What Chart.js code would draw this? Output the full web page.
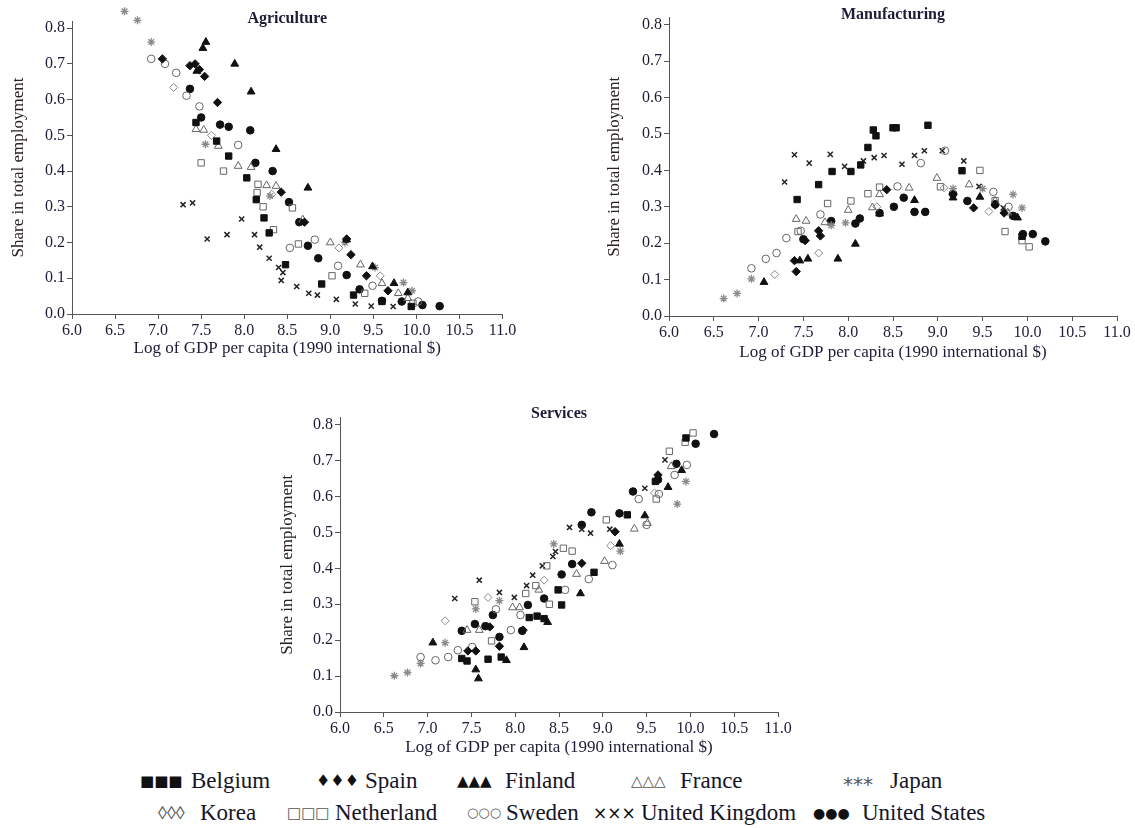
<!DOCTYPE html>
<html>
<head>
<meta charset="utf-8">
<script src="https://cdn.jsdelivr.net/npm/chart.js@4.4.1/dist/chart.umd.min.js"></script>
<style>
  body { margin: 0; background: #fff; width: 1135px; height: 828px; position: relative; overflow: hidden; }
  canvas { position: absolute; }
  .leg { position: absolute; font-family: "Liberation Serif", "Times New Roman", serif; font-size: 23px; line-height: 22px; color: #15152a; white-space: nowrap; }
  .sym { position: absolute; font-family: "DejaVu Sans", sans-serif; line-height: 22px; color: #111; white-space: nowrap; }
</style>
</head>
<body>
<canvas id="agri" width="520" height="360" style="left:0;top:0"></canvas>
<canvas id="manu" width="545" height="365" style="left:590px;top:0"></canvas>
<canvas id="serv" width="540" height="360" style="left:260px;top:400px"></canvas>

<span class="sym" style="left:140px;top:770px;font-size:15px">■■■</span><span class="leg" style="left:191px;top:770px">Belgium</span>
<span class="sym" style="left:316px;top:770px;font-size:16px">♦♦♦</span><span class="leg" style="left:365px;top:770px">Spain</span>
<span class="sym" style="left:457px;top:770px;font-size:15px">▲▲▲</span><span class="leg" style="left:505px;top:770px">Finland</span>
<span class="sym" style="left:631px;top:770px;font-size:15px;color:#555">△△△</span><span class="leg" style="left:680px;top:770px">France</span>
<span class="sym" style="left:843px;top:773px;color:#555;font-size:20px">***</span><span class="leg" style="left:890px;top:770px">Japan</span>
<span class="sym" style="left:158px;top:802px;color:#555;font-size:18px;font-family:'Liberation Serif',serif">◊◊◊</span><span class="leg" style="left:200px;top:802px">Korea</span>
<span class="sym" style="left:287px;top:802px;color:#555;font-size:15px">□□□</span><span class="leg" style="left:335px;top:802px">Netherland</span>
<span class="sym" style="left:467px;top:802px;color:#555;font-size:13px">○○○</span><span class="leg" style="left:506px;top:802px">Sweden</span>
<span class="sym" style="left:593px;top:802px;font-size:17px">×××</span><span class="leg" style="left:641px;top:802px">United Kingdom</span>
<span class="sym" style="left:813px;top:802px;font-size:14px">●●●</span><span class="leg" style="left:862px;top:802px">United States</span>

<script>
// ---- data: [log GDP per capita, share in total employment] ----
var countries = ['Belgium', 'Spain', 'Finland', 'France', 'Japan', 'Korea', 'Netherland', 'Sweden', 'United Kingdom', 'United States'];
var yTicks = [0.0, 0.1, 0.2, 0.3, 0.4, 0.5, 0.6, 0.7, 0.8];

// Agriculture
var agriBelgium = [[7.44,0.536],[7.68,0.484],[7.82,0.442],[8.03,0.381],[8.14,0.32],[8.23,0.269],[8.29,0.227],[8.48,0.138],[8.90,0.084],[9.27,0.053],[9.60,0.035],[9.94,0.021]];
var agriSpain = [[7.05,0.714],[7.37,0.695],[7.43,0.70],[7.48,0.684],[7.54,0.665],[7.69,0.592],[8.43,0.341],[8.70,0.257],[9.19,0.21],[9.24,0.166],[9.42,0.107],[9.67,0.065]];
var agriFinland = [[7.52,0.744],[7.555,0.761],[7.45,0.68],[7.89,0.70],[8.08,0.622],[8.37,0.461],[8.74,0.353],[9.19,0.208],[9.49,0.133],[9.74,0.086],[9.90,0.06]];
var agriFrance = [[7.44,0.517],[7.53,0.515],[7.70,0.47],[7.93,0.414],[8.08,0.411],[8.26,0.36],[8.37,0.358],[8.68,0.264],[9.00,0.20],[9.35,0.138],[9.60,0.086],[9.79,0.058],[9.90,0.044]];
var agriJapan = [[6.61,0.847],[6.76,0.822],[6.92,0.761],[7.55,0.475],[8.30,0.33],[9.17,0.20],[9.52,0.13],[9.85,0.088],[9.95,0.065]];
var agriKorea = [[7.18,0.634],[7.62,0.50],[8.32,0.335],[9.10,0.185],[9.58,0.107]];
var agriNetherland = [[7.50,0.423],[7.76,0.40],[8.16,0.363],[8.15,0.34],[8.22,0.30],[8.34,0.236],[8.56,0.297],[8.63,0.196],[9.02,0.107],[9.40,0.058],[9.96,0.03]];
var agriSweden = [[6.92,0.714],[7.08,0.70],[7.21,0.675],[7.33,0.611],[7.48,0.581],[7.93,0.473],[8.53,0.185],[8.82,0.208],[9.09,0.135],[9.49,0.079],[10.02,0.035]];
var agriUK = [[7.29,0.306],[7.40,0.311],[7.57,0.21],[7.80,0.222],[7.97,0.266],[8.12,0.222],[8.18,0.187],[8.29,0.156],[8.40,0.13],[8.45,0.116],[8.43,0.094],[8.61,0.077],[8.75,0.058],[8.85,0.053],[9.07,0.041],[9.29,0.028],[9.475,0.022],[9.73,0.021]];
var agriUS = [[7.37,0.63],[7.50,0.55],[7.72,0.53],[7.82,0.524],[8.07,0.514],[8.13,0.423],[8.33,0.40],[8.52,0.313],[8.64,0.257],[8.74,0.191],[8.86,0.156],[9.19,0.109],[9.34,0.069],[9.60,0.037],[9.83,0.035],[10.07,0.025],[10.27,0.022]];

// Manufacturing
var manuBelgium = [[7.43,0.32],[7.67,0.361],[7.82,0.397],[8.03,0.397],[8.14,0.415],[8.22,0.463],[8.28,0.511],[8.31,0.495],[8.50,0.517],[8.535,0.517],[8.89,0.524],[9.27,0.399],[9.94,0.219]];
var manuSpain = [[7.42,0.122],[7.40,0.152],[7.52,0.207],[7.67,0.234],[7.69,0.22],[8.43,0.347],[9.17,0.334],[9.40,0.297],[9.64,0.305],[9.74,0.283]];
var manuFinland = [[7.06,0.093],[7.46,0.152],[7.55,0.157],[7.885,0.157],[8.08,0.198],[8.35,0.281],[8.74,0.318],[9.17,0.325],[9.47,0.327],[9.89,0.27]];
var manuFrance = [[7.42,0.266],[7.53,0.261],[7.74,0.257],[8.00,0.291],[8.27,0.298],[8.35,0.334],[8.68,0.352],[8.99,0.379],[9.35,0.361],[9.64,0.316],[9.78,0.284]];
var manuJapan = [[6.61,0.048],[6.76,0.062],[6.92,0.102],[7.81,0.249],[7.97,0.256],[9.17,0.35],[9.50,0.35],[9.84,0.334],[9.94,0.297]];
var manuKorea = [[7.18,0.114],[7.67,0.173],[8.32,0.30],[9.07,0.352],[9.57,0.287]];
var manuNetherland = [[7.44,0.232],[7.77,0.309],[8.03,0.316],[8.22,0.336],[8.35,0.354],[9.03,0.355],[9.47,0.40],[9.64,0.317],[9.75,0.232],[9.94,0.207],[10.02,0.19]];
var manuSweden = [[6.92,0.131],[7.08,0.157],[7.20,0.173],[7.31,0.214],[7.47,0.234],[7.69,0.279],[8.55,0.356],[8.81,0.42],[9.08,0.454],[9.62,0.341],[9.79,0.30]];
var manuUK = [[7.29,0.368],[7.40,0.443],[7.565,0.42],[7.80,0.444],[7.96,0.411],[8.17,0.426],[8.29,0.435],[8.40,0.441],[8.60,0.417],[8.74,0.441],[8.85,0.454],[9.05,0.454],[9.29,0.426],[9.46,0.356],[9.73,0.297]];
var manuUS = [[7.50,0.211],[7.81,0.261],[8.08,0.254],[8.13,0.268],[8.35,0.283],[8.51,0.30],[8.62,0.325],[8.74,0.286],[8.86,0.286],[9.17,0.336],[9.33,0.316],[9.64,0.307],[9.84,0.275],[9.95,0.225],[10.06,0.225],[10.20,0.205]];

// Services
var servBelgium = [[7.39,0.149],[7.45,0.142],[7.69,0.147],[7.84,0.153],[8.16,0.263],[8.25,0.267],[8.33,0.26],[8.49,0.34],[8.53,0.298],[8.90,0.389],[9.28,0.549],[9.60,0.642],[9.95,0.763]];
var servSpain = [[7.46,0.17],[7.55,0.17],[7.71,0.237],[7.82,0.183],[8.09,0.228],[8.76,0.414],[9.14,0.502],[9.63,0.66]];
var servFinland = [[7.06,0.193],[7.55,0.118],[7.58,0.093],[7.90,0.144],[8.10,0.18],[8.37,0.25],[8.745,0.33],[9.19,0.468],[9.48,0.547],[9.745,0.626],[9.90,0.673]];
var servFrance = [[7.45,0.228],[7.59,0.228],[7.97,0.291],[8.05,0.291],[8.27,0.34],[8.70,0.384],[9.02,0.42],[9.36,0.51],[9.51,0.526],[9.78,0.684]];
var servJapan = [[6.62,0.101],[6.77,0.11],[6.92,0.135],[7.20,0.193],[7.55,0.287],[7.82,0.31],[8.44,0.468],[9.20,0.448],[9.85,0.579],[9.95,0.642]];
var servKorea = [[7.20,0.254],[7.69,0.319],[8.33,0.367],[9.09,0.463],[9.59,0.61]];
var servNetherland = [[7.54,0.307],[7.73,0.198],[8.12,0.33],[8.235,0.352],[8.36,0.407],[8.39,0.30],[8.55,0.456],[8.65,0.448],[9.04,0.535],[9.61,0.593],[9.76,0.726],[9.94,0.751],[10.03,0.777]];
var servSweden = [[6.92,0.153],[7.09,0.144],[7.235,0.153],[7.345,0.172],[7.51,0.181],[7.78,0.286],[7.95,0.228],[8.06,0.27],[8.57,0.34],[8.84,0.37],[9.11,0.409],[9.41,0.593],[9.50,0.521],[9.64,0.607],[9.82,0.66],[9.96,0.688]];
var servUK = [[7.31,0.316],[7.59,0.367],[7.82,0.333],[7.99,0.319],[8.13,0.352],[8.20,0.381],[8.31,0.407],[8.43,0.433],[8.46,0.447],[8.62,0.514],[8.76,0.509],[8.86,0.498],[9.08,0.509],[9.48,0.623],[9.71,0.702],[9.94,0.763]];
var servUS = [[7.39,0.226],[7.54,0.245],[7.66,0.239],[7.745,0.27],[7.82,0.209],[8.08,0.226],[8.145,0.298],[8.33,0.316],[8.53,0.383],[8.65,0.412],[8.76,0.521],[8.87,0.556],[9.19,0.553],[9.345,0.614],[9.63,0.647],[9.84,0.691],[10.06,0.747],[10.27,0.774]];

// ---- marker styles, same order as countries ----
var NONE = 'rgba(0,0,0,0)';
var styles = [
  { pointStyle: 'rect',     radius: 4.5, fill: '#111', line: '#111', w: 1 },
  { pointStyle: 'rectRot',  radius: 4.2, fill: '#111', line: '#111', w: 1 },
  { pointStyle: 'triangle', radius: 4.5, fill: '#111', line: '#111', w: 1 },
  { pointStyle: 'triangle', radius: 4.5, fill: NONE,   line: '#666', w: 1 },
  { pointStyle: 'star',     radius: 4,   fill: '#8a8a8a', line: '#8a8a8a', w: 1.3 },
  { pointStyle: 'rectRot',  radius: 4,   fill: NONE,   line: '#888', w: 1 },
  { pointStyle: 'rect',     radius: 4.5, fill: NONE,   line: '#666', w: 1 },
  { pointStyle: 'circle',   radius: 3.8, fill: NONE,   line: '#666', w: 1 },
  { pointStyle: 'crossRot', radius: 3.6, fill: '#222', line: '#222', w: 1.5 },
  { pointStyle: 'circle',   radius: 3.8, fill: '#111', line: '#111', w: 1 }
];

var SERIF = '"Liberation Serif", "Times New Roman", serif';
var INK = '#1c1c36';
var AX = '#555';

var panelTitle = {
  id: 'panelTitle',
  afterDraw: function(chart, args, opts) {
    var ctx = chart.ctx, a = chart.chartArea;
    ctx.save();
    ctx.font = 'bold 16px ' + SERIF;
    ctx.fillStyle = INK;
    ctx.textAlign = 'center';
    ctx.textBaseline = 'middle';
    ctx.fillText(opts.text, (a.left + a.right) / 2, a.top + opts.dy);
    ctx.restore();
  }
};

function makePanel(id, title, sets, g) {
  var datasets = sets.map(function(arr, i) {
    var s = styles[i];
    return {
      label: countries[i],
      data: arr.map(function(p) { return { x: p[0], y: p[1] }; }),
      pointStyle: s.pointStyle,
      pointRadius: s.radius,
      pointHoverRadius: 16,   // only widens the draw margin so points just above 0.82 still show
      backgroundColor: s.fill,
      borderColor: s.line,
      borderWidth: s.w,
      showLine: false,
      clip: false
    };
  });
  return new Chart(document.getElementById(id), {
    type: 'scatter',
    data: { datasets: datasets },
    plugins: [panelTitle],
    options: {
      responsive: false,
      animation: false,
      events: [],
      layout: { padding: g.pad },
      plugins: {
        legend: { display: false },
        tooltip: { enabled: false },
        panelTitle: { text: title, dy: g.titleDy }
      },
      scales: {
        x: {
          type: 'linear', min: 6, max: 11,
          ticks: { stepSize: 0.5, autoSkip: false, maxRotation: 0, padding: 2, color: INK,
                   font: { family: SERIF, size: 16 },
                   callback: function(v) { return v.toFixed(1); } },
          grid: { drawOnChartArea: false, drawTicks: true, tickLength: 5, color: AX },
          border: { color: AX },
          title: { display: true, text: 'Log of GDP per capita (1990 international $)', color: INK,
                   font: { family: SERIF, size: 17 }, padding: { top: 0, bottom: g.xtp } },
          afterFit: function(s) { s.height = g.xh; }
        },
        y: {
          type: 'linear', min: 0, max: 0.82,
          ticks: { padding: 2, color: INK, font: { family: SERIF, size: 16 },
                   callback: function(v) { return v.toFixed(1); } },
          afterBuildTicks: function(s) {
            s.ticks = yTicks.map(function(v) { return { value: v }; });
          },
          grid: { drawOnChartArea: false, drawTicks: true, tickLength: 5, color: AX },
          border: { color: AX },
          title: { display: true, text: 'Share in total employment', color: '#2a2020',
                   font: { family: SERIF, size: 17 }, padding: { top: g.ytp, bottom: 0 } },
          afterFit: function(s) { s.width = g.yw; }
        }
      }
    }
  });
}

makePanel('agri', 'Agriculture',
  [agriBelgium, agriSpain, agriFinland, agriFrance, agriJapan, agriKorea, agriNetherland, agriSweden, agriUK, agriUS],
  { yw: 72, xh: 46, ytp: 8, xtp: 1, titleDy: -2, pad: { left: 0, right: 17, top: 21, bottom: 0 } });

makePanel('manu', 'Manufacturing',
  [manuBelgium, manuSpain, manuFinland, manuFrance, manuJapan, manuKorea, manuNetherland, manuSweden, manuUK, manuUS],
  { yw: 79, xh: 49, ytp: 14, xtp: 2, titleDy: -3, pad: { left: 0, right: 18, top: 15, bottom: 0 } });

makePanel('serv', 'Services',
  [servBelgium, servSpain, servFinland, servFrance, servJapan, servKorea, servNetherland, servSweden, servUK, servUS],
  { yw: 80, xh: 48, ytp: 17, xtp: 2, titleDy: -4, pad: { left: 0, right: 22, top: 17, bottom: 0 } });
</script>
</body>
</html>
